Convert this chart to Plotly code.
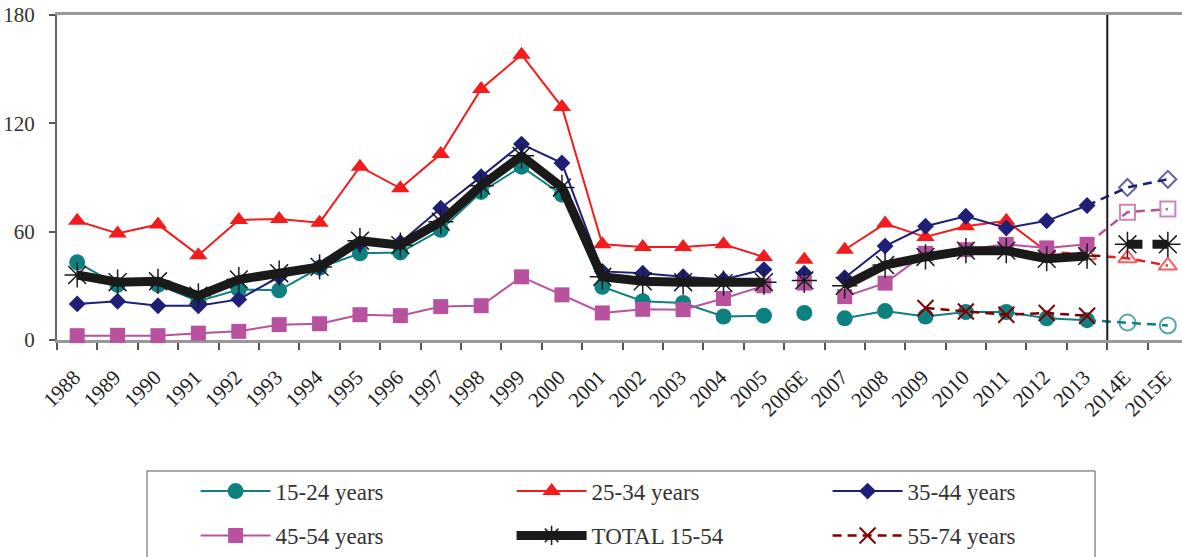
import plotly.graph_objects as go

years = ["1988", "1989", "1990", "1991", "1992", "1993", "1994", "1995", "1996",
         "1997", "1998", "1999", "2000", "2001", "2002", "2003", "2004", "2005",
         "2006E", "2007", "2008", "2009", "2010", "2011", "2012", "2013",
         "2014E", "2015E"]

age_15_24 = [43, 30.5, 30.5, 21.5, 28, 27.5, 40, 48, 48.5, 61, 82, 96, 80.5,
             29.5, 21.5, 20.5, 13, 13.5, 15, 12, 16, 13, 15.5, 15.5, 12, 11,
             9.7, 8.1]
age_25_34 = [66, 59, 64, 47, 66.5, 67, 65, 96, 84, 103, 139, 158, 129,
             53, 51.5, 51.5, 53, 46, 44.5, 50, 64.5, 57, 63, 66, 49, 47,
             45.3, 41.2]
age_35_44 = [20, 21.5, 19, 19, 22.5, 35, 40.5, 53.5, 54, 73, 90.5, 108.5, 98,
             38, 37, 35, 33.5, 39, 37, 34.5, 52, 63, 68.5, 62, 66, 74.5,
             84.5, 89]
age_45_54 = [2.4, 2.6, 2.4, 3.8, 4.8, 8.5, 9, 14, 13.5, 18.5, 19, 35, 25,
             15, 17, 16.8, 23, 30, 31.5, 24, 31.5, 48, 50, 53, 51, 53,
             70.8, 72.5]
total_15_54 = [36, 32, 32.5, 24.5, 33.5, 37, 40.5, 55, 52.5, 65.5, 85.5, 102, 84.5,
               35, 32.5, 32, 31.5, 32, 33, 30, 41.5, 46, 49.5, 49.5, 45, 46.5,
               53, 53]
age_55_74 = [None] * 21 + [17.7, 15.8, 14, 15, 13.4] + [None, None]

GAP = "2006E"

series = [
    dict(name="15-24 years", y=age_15_24, color="#0E8080", symbol="circle",
         size=16, width=2, proj_from="2013", legend="legend"),
    dict(name="25-34 years", y=age_25_34, color="#F21C1C", symbol="triangle-up",
         size=16, width=2, proj_from="2012", legend="legend"),
    dict(name="35-44 years", y=age_35_44, color="#1F1F78", symbol="diamond",
         size=13, width=2, proj_from="2013", legend="legend"),
    dict(name="45-54 years", y=age_45_54, color="#B8529F", symbol="square",
         size=15, width=2, proj_from="2013", legend="legend2"),
]

fig = go.Figure()

for s in series:
    pi = years.index(s["proj_from"])
    gi = years.index(GAP)
    ys = [None if i == gi else v for i, v in enumerate(s["y"][:pi + 1])]
    fig.add_trace(go.Scatter(
        x=years[:pi + 1], y=ys, mode="lines+markers", name=s["name"],
        legend=s["legend"], cliponaxis=False,
        line=dict(color=s["color"], width=s["width"]),
        marker=dict(symbol=s["symbol"], size=s["size"], color=s["color"],
                    line=dict(width=0))))
    fig.add_trace(go.Scatter(
        x=[years[gi]], y=[s["y"][gi]], mode="markers", showlegend=False,
        cliponaxis=False,
        marker=dict(symbol=s["symbol"], size=s["size"], color=s["color"],
                    line=dict(width=0))))
    px = years[pi:]
    py = s["y"][pi:]
    fig.add_trace(go.Scatter(
        x=px, y=py, mode="lines+markers", showlegend=False, cliponaxis=False,
        line=dict(color=s["color"], width=s["width"] + 0.5, dash="9px,6px"),
        marker=dict(symbol=s["symbol"] + "-open", size=[0] + [s["size"]] * (len(px) - 1),
                    color=s["color"], line=dict(width=2, color=s["color"]))))

# TOTAL
gi = years.index(GAP)
ei = years.index("2013")
ys = [None if i == gi else v for i, v in enumerate(total_15_54[:ei + 1])]
fig.add_trace(go.Scatter(
    x=years[:ei + 1], y=ys, mode="lines+markers", name="TOTAL 15-54",
    legend="legend2", cliponaxis=False,
    line=dict(color="#1A1A1A", width=9),
    marker=dict(symbol="asterisk-open", size=21, color="#1A1A1A",
                line=dict(width=1.5, color="#1A1A1A"))))
fig.add_trace(go.Scatter(
    x=[years[gi]], y=[total_15_54[gi]], mode="markers", showlegend=False,
    cliponaxis=False,
    marker=dict(symbol="asterisk-open", size=21, color="#1A1A1A",
                line=dict(width=1.5, color="#1A1A1A"))))
fig.add_trace(go.Scatter(
    x=years[ei + 1:], y=total_15_54[ei + 1:], mode="lines+markers",
    showlegend=False, cliponaxis=False,
    line=dict(color="#1A1A1A", width=9, dash="15px,10px"),
    marker=dict(symbol="asterisk-open", size=21, color="#1A1A1A",
                line=dict(width=1.5, color="#1A1A1A"))))

# 55-74
fig.add_trace(go.Scatter(
    x=years, y=age_55_74, mode="lines+markers", name="55-74 years",
    legend="legend2", cliponaxis=False,
    line=dict(color="#800000", width=2.5, dash="9px,6px"),
    marker=dict(symbol="x-thin-open", size=16, color="#800000",
                line=dict(width=2, color="#800000"))))

legend_common = dict(
    orientation="h", xanchor="left", yanchor="middle",
    entrywidth=231, entrywidthmode="pixels", itemwidth=70,
    font=dict(size=23, color="#333333", family="Liberation Serif"),
    bgcolor="rgba(0,0,0,0)", borderwidth=0, traceorder="normal",
)

fig.update_layout(
    width=1182, height=557,
    margin=dict(l=57, r=0, t=15, b=217),
    plot_bgcolor="white", paper_bgcolor="white",
    font=dict(family="Liberation Serif", color="#333333"),
    xaxis=dict(type="category", categoryorder="array", categoryarray=years,
               range=[-0.5, 27.35], tickson="boundaries", ticks="outside",
               ticklen=7, tickwidth=1.5, tickcolor="#555555",
               showline=True, linecolor="#999999", linewidth=2.5, mirror=True,
               tickangle=-45, tickfont=dict(size=21, color="#222222"),
               ticklabelstandoff=14, ticklabelshift=-3,
               showgrid=False, layer="below traces", automargin=False),
    yaxis=dict(range=[0, 180], tickvals=[0, 60, 120, 180], ticks="outside",
               ticklen=6, tickwidth=1.5, tickcolor="#555555",
               showline=True, linecolor="#666666", linewidth=2,
               showgrid=False, zeroline=False,
               tickfont=dict(size=21, color="#333333"), ticklabelstandoff=10,
               layer="below traces", automargin=False),
    legend=dict(x=0.1232, y=-0.465, **legend_common),
    legend2=dict(x=0.1232, y=-0.603, **legend_common),
    shapes=[
        dict(type="line", xref="x", yref="y domain", x0=25.5, x1=25.5, y0=0, y1=1,
             line=dict(color="#1A1A1A", width=2)),
        dict(type="rect", xref="paper", yref="paper", x0=0.08, x1=0.9227,
             y0=-0.76, y1=-0.403, line=dict(color="#555555", width=1)),
    ],
)

fig.write_html("out.html", config={"displayModeBar": False},
               post_script="document.body.style.margin='0';document.body.style.overflow='hidden';")
